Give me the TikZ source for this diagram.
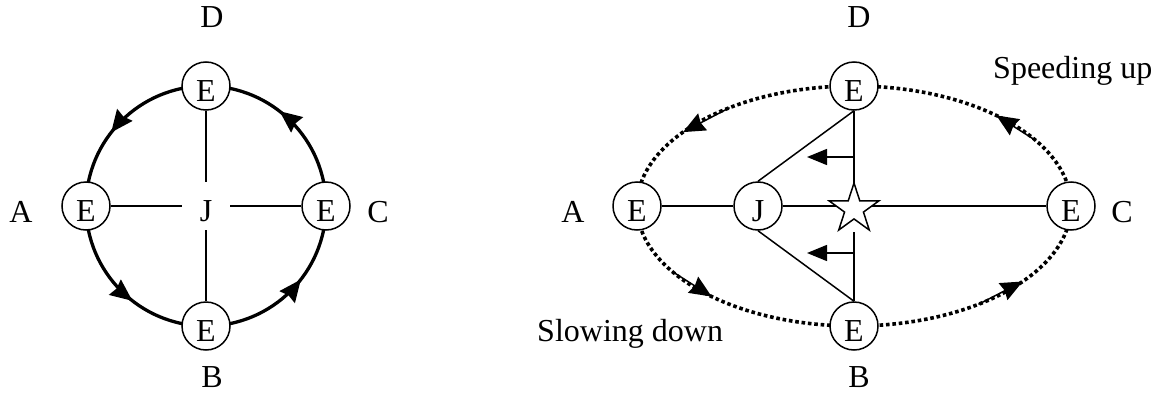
\documentclass[tikz,border=0pt]{standalone}
\usepackage{fontspec}
\setmainfont{Liberation Serif}
\usetikzlibrary{arrows.meta,shapes.geometric,decorations.markings,backgrounds}

\begin{document}
\begin{tikzpicture}[x=1pt,y=1pt,
  font=\fontsize{32}{38}\selectfont,
  lbl/.style={inner sep=0pt, anchor=base},
  enode/.style={circle, draw, line width=1.5pt, fill=white, minimum size=48pt,
                inner sep=0pt, text height=31pt, text depth=0pt},
  jnode/.style={circle, minimum size=48pt, inner sep=0pt, text height=31pt, text depth=0pt},
  link/.style={line width=1.5pt},
  orbit/.style={line width=3.3pt},
  dotorbit/.style={line width=3.6pt, dash pattern=on 3.6pt off 2.8pt},
  flowhead/.style={postaction={decorate}, decoration={markings,
      mark=at position 0.58 with {\arrow{Stealth[length=22pt,width=19pt,inset=2pt]}}}},
  tanarrow/.style={line width=1.5pt, -{Stealth[length=22pt,width=19pt,inset=2pt]}},
  pusharrow/.style={line width=1.5pt, -{Triangle[length=20pt,width=16pt]}}
]
\useasboundingbox (0,0) rectangle (1158,392);

% ---------- circular orbit ----------
\node[jnode] (J) at (206,186) {J};
\node[enode] (tE) at (206,306) {E};
\node[enode] (bE) at (206,66) {E};
\node[enode] (lE) at (86,186) {E};
\node[enode] (rE) at (326,186) {E};
\node[lbl] (Dl) at (212,364) {D};
\node[lbl] (Bl) at (212,5) {B};
\node[lbl] (Al) at (21,170) {A};
\node[lbl] (Cl) at (378,170) {C};

% ---------- elliptical orbit ----------
\coordinate (O2) at (854,186);
\node[enode] (J2) at (758,186) {J};
\node[enode] (tE2) at (854,306) {E};
\node[enode] (bE2) at (854,66) {E};
\node[enode] (lE2) at (637,186) {E};
\node[enode] (rE2) at (1071,186) {E};
\node[star, star points=5, star point ratio=2.618, draw, fill=white,
      line width=1.5pt, minimum size=52pt, inner sep=0pt] (st) at (854,183) {};
\node[lbl] (D2) at (859,364) {D};
\node[lbl] (B2) at (859,5) {B};
\node[lbl] (A2) at (573,170) {A};
\node[lbl] (C2) at (1122,170) {C};
\node[anchor=base west, inner sep=0pt] (spd) at (993,314) {Speeding up};
\node[anchor=base west, inner sep=0pt] (slw) at (537,51) {Slowing down};

% arrow ends along the ellipse
\coordinate (ulS) at ([shift={(O2)}]125:217pt and 120pt);
\coordinate (ulT) at ([shift={(O2)}]142:217pt and 120pt);
\coordinate (llS) at ([shift={(O2)}]213:217pt and 120pt);
\coordinate (llT) at ([shift={(O2)}]229:217pt and 120pt);
\coordinate (lrS) at ([shift={(O2)}]305:217pt and 120pt);
\coordinate (lrT) at ([shift={(O2)}]321:217pt and 120pt);
\coordinate (urS) at ([shift={(O2)}]33:217pt and 120pt);
\coordinate (urT) at ([shift={(O2)}]49:217pt and 120pt);
% pushes on the vertical line
\coordinate (p1s) at (854,235);
\coordinate (p1e) at (807,235);
\coordinate (p2s) at (854,139);
\coordinate (p2e) at (807,139);

\begin{pgfonlayer}{background}
  % circle, travelled C -> D -> A -> B -> C
  \draw[orbit, flowhead] (rE.center) arc[start angle=0, end angle=90, radius=120pt];
  \draw[orbit, flowhead] (tE.center) arc[start angle=90, end angle=180, radius=120pt];
  \draw[orbit, flowhead] (lE.center) arc[start angle=180, end angle=270, radius=120pt];
  \draw[orbit, flowhead] (bE.center) arc[start angle=270, end angle=360, radius=120pt];
  \draw[link] (lE) -- (J);
  \draw[link] (J) -- (rE);
  \draw[link] (tE) -- (J);
  \draw[link] (J) -- (bE);

  % ellipse
  \draw[dotorbit] (rE2.center) arc[start angle=0, end angle=90, x radius=217pt, y radius=120pt];
  \draw[dotorbit] (tE2.center) arc[start angle=90, end angle=180, x radius=217pt, y radius=120pt];
  \draw[dotorbit] (lE2.center) arc[start angle=180, end angle=270, x radius=217pt, y radius=120pt];
  \draw[dotorbit] (bE2.center) arc[start angle=270, end angle=360, x radius=217pt, y radius=120pt];
  \draw[link] (lE2) -- (J2);
  \draw[link] (J2) -- (rE2);
  \draw[link] (J2.north) -- (tE2.south);
  \draw[link] (J2.south) -- (bE2.north);
  \draw[link] (tE2) -- (st.center);
  \draw[link] (bE2) -- (bE2.north |- st.outer point 3);
\end{pgfonlayer}

\draw[tanarrow] (ulS) -- (ulT);
\draw[tanarrow] (llS) -- (llT);
\draw[tanarrow] (lrS) -- (lrT);
\draw[tanarrow] (urS) -- (urT);
\draw[pusharrow] (p1s) -- (p1e);
\draw[pusharrow] (p2s) -- (p2e);
\end{tikzpicture}
\end{document}
